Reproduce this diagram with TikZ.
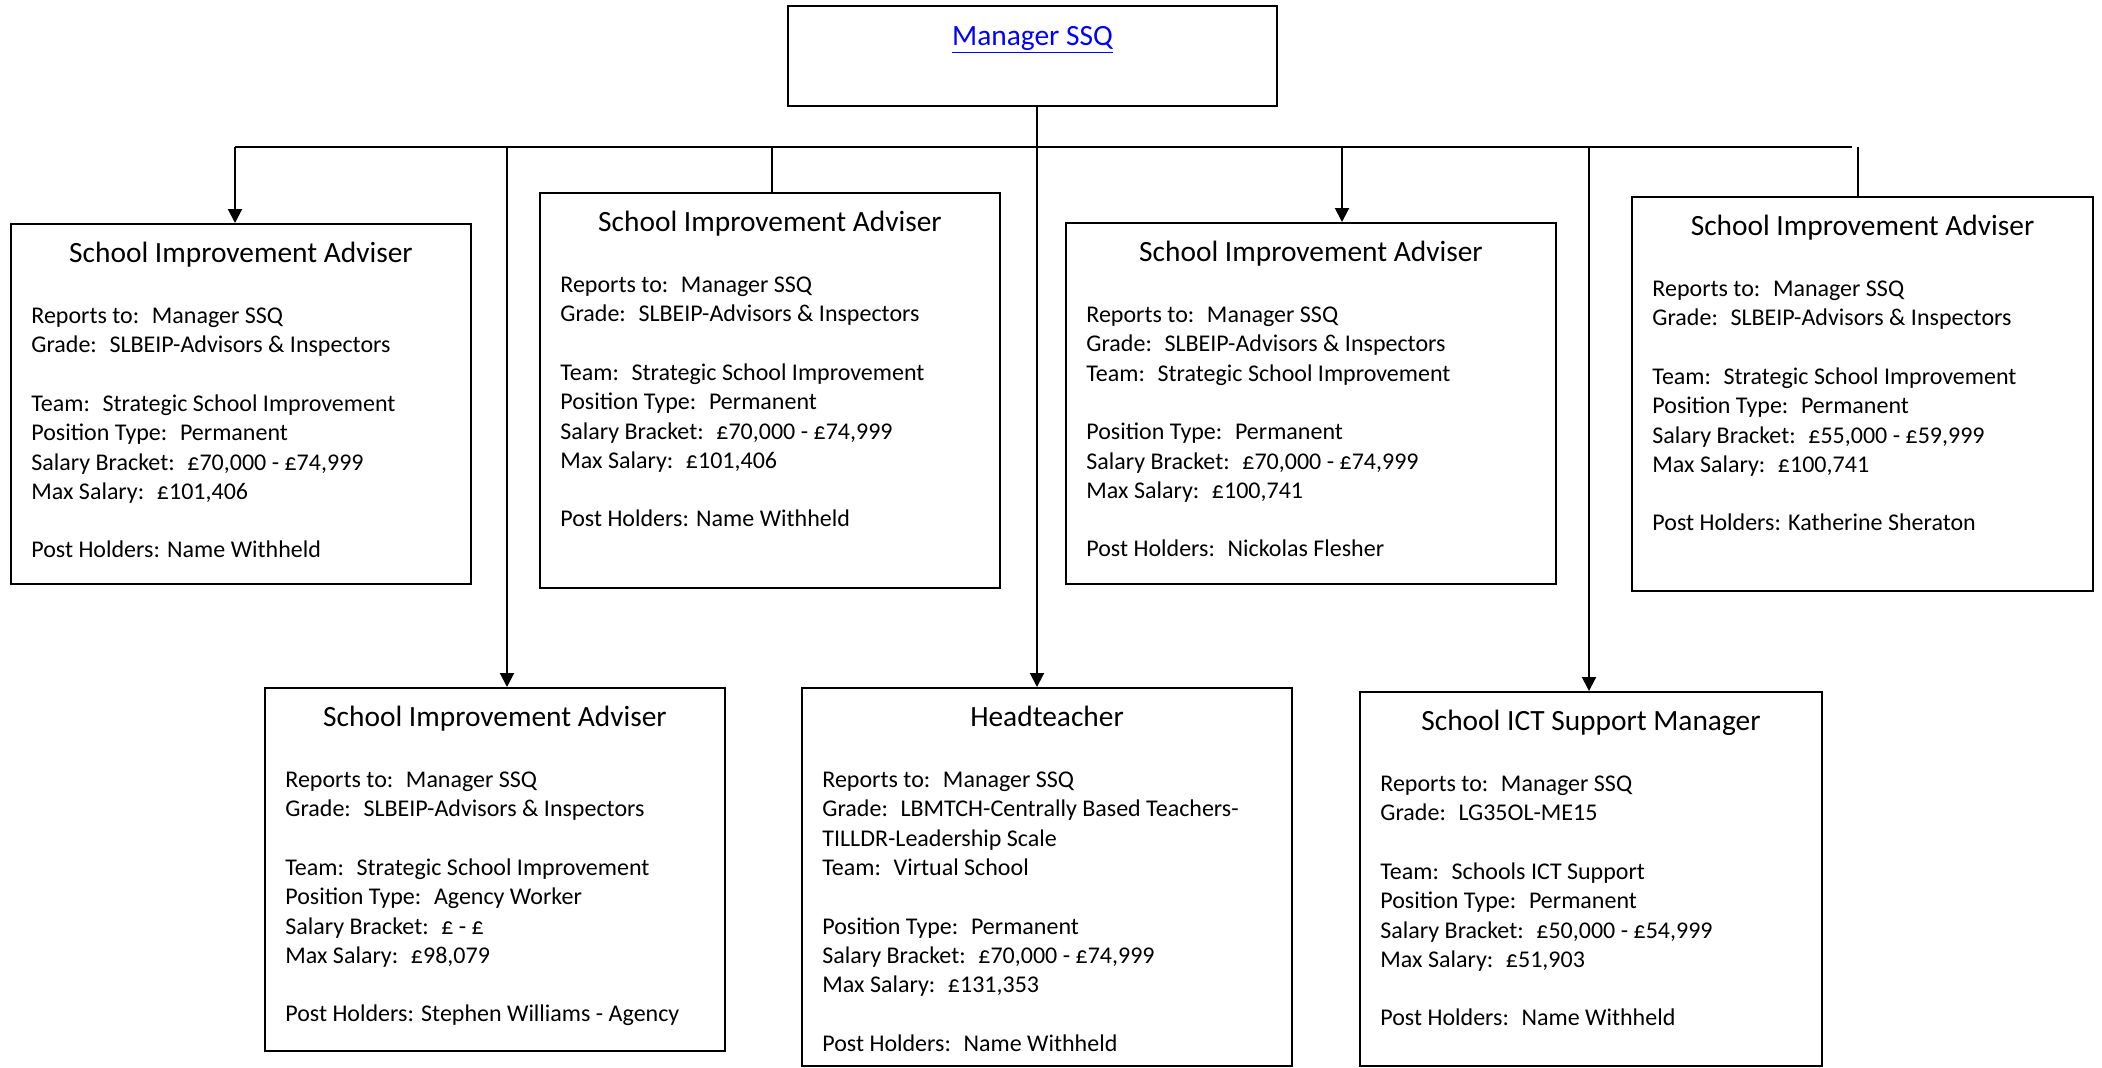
\documentclass[tikz,border=0pt]{standalone}
\usepackage{fontspec}
\setmainfont{Carlito}
\usetikzlibrary{positioning,arrows.meta}
\definecolor{linkblue}{RGB}{0,0,255}

\begin{document}
\begin{tikzpicture}[x=0.5pt, y=-0.5pt, >={Triangle[length=7pt,width=7pt]},
   post/.style={draw, line width=1pt, rectangle, inner sep=0pt, anchor=north west},
   posttitle/.style={font=\fontsize{14.7}{17}\selectfont, inner sep=0pt, anchor=base},
   postbody/.style={font=\fontsize{12}{14.65}\selectfont, align=left, inner sep=0pt, anchor=north west},
   link/.style={line width=1pt}
   ]
   \useasboundingbox (0,0) rectangle (2102,1067);

   % top box
   \node[post, minimum width=244.5pt, minimum height=50pt] (mgr) at (787,5) {};
   \node[posttitle, text=linkblue] (mgrtitle) at ([yshift=-20pt]mgr.north) {\underline{Manager SSQ}};

   % upper row
   \node[post, minimum width=230pt, minimum height=180pt] (sia1) at (10,223) {};
   \node[post, minimum width=230pt, minimum height=197.5pt] (sia2) at (539,192) {};
   \node[post, minimum width=245pt, minimum height=180.5pt] (sia3) at (1065,222) {};
   \node[post, minimum width=230.5pt, minimum height=197pt] (sia4) at (1631,196) {};
   % lower row
   \node[post, minimum width=230pt, minimum height=181.5pt] (sia5) at (264,687) {};
   \node[post, minimum width=245pt, minimum height=189pt] (head) at (801,687) {};
   \node[post, minimum width=231pt, minimum height=187pt] (ict) at (1359,691) {};

   \node[posttitle] (sia1title) at ([yshift=-19.5pt]sia1.north) {School Improvement Adviser};
   \node[postbody] (sia1body) at ([xshift=10.5pt,yshift=-42.3pt]sia1.north west) {Reports to:~ Manager SSQ\\
     Grade:~ SLBEIP-Advisors \& Inspectors\\[14.65pt]
     Team:~ Strategic School Improvement\\
     Position Type:~ Permanent\\
     Salary Bracket:~ £70,000 - £74,999\\
     Max Salary:~ £101,406\\[14.65pt]
     Post Holders: Name Withheld};

   \node[posttitle] (sia2title) at ([yshift=-19.5pt]sia2.north) {School Improvement Adviser};
   \node[postbody] (sia2body) at ([xshift=10.5pt,yshift=-42.3pt]sia2.north west) {Reports to:~ Manager SSQ\\
     Grade:~ SLBEIP-Advisors \& Inspectors\\[14.65pt]
     Team:~ Strategic School Improvement\\
     Position Type:~ Permanent\\
     Salary Bracket:~ £70,000 - £74,999\\
     Max Salary:~ £101,406\\[14.65pt]
     Post Holders: Name Withheld};

   \node[posttitle] (sia3title) at ([yshift=-19.5pt]sia3.north) {School Improvement Adviser};
   \node[postbody] (sia3body) at ([xshift=10.5pt,yshift=-42.3pt]sia3.north west) {Reports to:~ Manager SSQ\\
     Grade:~ SLBEIP-Advisors \& Inspectors\\
     Team:~ Strategic School Improvement\\[14.65pt]
     Position Type:~ Permanent\\
     Salary Bracket:~ £70,000 - £74,999\\
     Max Salary:~ £100,741\\[14.65pt]
     Post Holders:~ Nickolas Flesher};

   \node[posttitle] (sia4title) at ([yshift=-19.5pt]sia4.north) {School Improvement Adviser};
   \node[postbody] (sia4body) at ([xshift=10.5pt,yshift=-42.3pt]sia4.north west) {Reports to:~ Manager SSQ\\
     Grade:~ SLBEIP-Advisors \& Inspectors\\[14.65pt]
     Team:~ Strategic School Improvement\\
     Position Type:~ Permanent\\
     Salary Bracket:~ £55,000 - £59,999\\
     Max Salary:~ £100,741\\[14.65pt]
     Post Holders: Katherine Sheraton};

   \node[posttitle] (sia5title) at ([yshift=-19.5pt]sia5.north) {School Improvement Adviser};
   \node[postbody] (sia5body) at ([xshift=10.5pt,yshift=-42.3pt]sia5.north west) {Reports to:~ Manager SSQ\\
     Grade:~ SLBEIP-Advisors \& Inspectors\\[14.65pt]
     Team:~ Strategic School Improvement\\
     Position Type:~ Agency Worker\\
     Salary Bracket:~ £ - £\\
     Max Salary:~ £98,079\\[14.65pt]
     Post Holders: Stephen Williams - Agency};

   \node[posttitle] (headtitle) at ([yshift=-19.5pt]head.north) {Headteacher};
   \node[postbody] (headbody) at ([xshift=10.5pt,yshift=-42.3pt]head.north west) {Reports to:~ Manager SSQ\\
     Grade:~ LBMTCH-Centrally Based Teachers-\\
     TILLDR-Leadership Scale\\
     Team:~ Virtual School\\[14.65pt]
     Position Type:~ Permanent\\
     Salary Bracket:~ £70,000 - £74,999\\
     Max Salary:~ £131,353\\[14.65pt]
     Post Holders:~ Name Withheld};

   \node[posttitle] (icttitle) at ([yshift=-19.5pt]ict.north) {School ICT Support Manager};
   \node[postbody] (ictbody) at ([xshift=10.5pt,yshift=-42.3pt]ict.north west) {Reports to:~ Manager SSQ\\
     Grade:~ LG35OL-ME15\\[14.65pt]
     Team:~ Schools ICT Support\\
     Position Type:~ Permanent\\
     Salary Bracket:~ £50,000 - £54,999\\
     Max Salary:~ £51,903\\[14.65pt]
     Post Holders:~ Name Withheld};

   % connector bus
   \coordinate (bus) at (1037,147);
   \coordinate (busL) at (235,147);
   \coordinate (busR) at (1852,147);
   \coordinate (d1) at (235,147);
   \coordinate (d5) at (507,147);
   \coordinate (d2) at (772,147);
   \coordinate (d3) at (1342,147);
   \coordinate (d7) at (1589,147);
   \coordinate (d4) at (1858,147);

   \draw[link] (mgr.south -| bus) -- (bus);
   \draw[link] (busL) -- (busR);
   \draw[link,->] (d1) -- (d1 |- sia1.north);
   \draw[link,->] (d5) -- (d5 |- sia5.north);
   \draw[link] (d2) -- (d2 |- sia2.north);
   \draw[link,->] (bus) -- (bus |- head.north);
   \draw[link,->] (d3) -- (d3 |- sia3.north);
   \draw[link,->] (d7) -- (d7 |- ict.north);
   \draw[link] (d4) -- (d4 |- sia4.north);
\end{tikzpicture}
\end{document}
